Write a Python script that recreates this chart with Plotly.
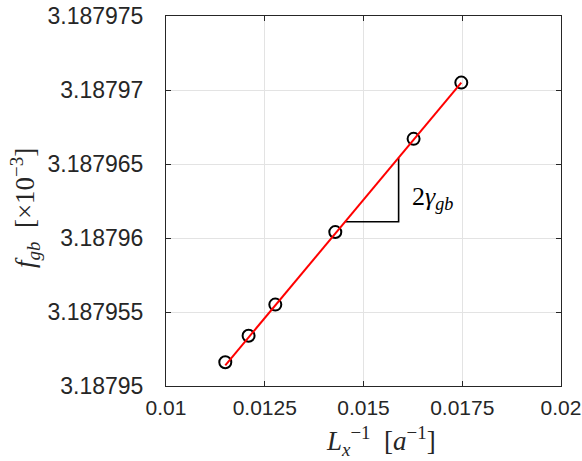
import plotly.graph_objects as go

# data
inv_Lx = [0.011501, 0.012091, 0.012767, 0.014286, 0.016268, 0.017476]
f_gb = [3.1879516, 3.1879534, 3.1879555, 3.1879604, 3.1879667, 3.1879705]

fit_x = [0.011501, 0.017476]
fit_y = [3.1879514, 3.1879705]

tri_x = [0.014539, 0.015889, 0.015889]
tri_y = [3.1879611, 3.1879611, 3.1879654]

x_ticks = [0.01, 0.0125, 0.015, 0.0175, 0.02]
x_labels = ["0.01", "0.0125", "0.015", "0.0175", "0.02"]
y_ticks = [3.18795, 3.187955, 3.18796, 3.187965, 3.18797, 3.187975]
y_labels = ["3.18795", "3.187955", "3.18796", "3.187965", "3.18797", "3.187975"]

fig = go.Figure()
fig.add_trace(go.Scatter(x=tri_x, y=tri_y, mode="lines",
                         line=dict(color="black", width=1.6), showlegend=False))
fig.add_trace(go.Scatter(x=inv_Lx, y=f_gb, mode="markers",
                         marker=dict(symbol="circle-open", size=12, color="black",
                                     line=dict(width=2, color="black")),
                         showlegend=False))
fig.add_trace(go.Scatter(x=fit_x, y=fit_y, mode="lines",
                         line=dict(color="#ff0000", width=2), showlegend=False))

fig.add_annotation(x=0.01618, y=3.1879627, xref="x", yref="y",
                   text="2<i>γ</i><sub><i>gb</i></sub>", showarrow=False,
                   xanchor="left", yanchor="middle",
                   font=dict(family="Liberation Serif", size=26, color="black"))

# axis titles as annotations for exact placement
fig.add_annotation(x=0.544, y=-0.148, xref="paper", yref="paper",
                   text="<i>L</i><sub><i>x</i></sub><sup>−1</sup>  [<i>a</i><sup>−1</sup>]",
                   showarrow=False, xanchor="center", yanchor="middle",
                   font=dict(family="Liberation Serif", size=27, color="#262626"))
fig.add_annotation(x=-0.357, y=0.481, xref="paper", yref="paper", textangle=-90,
                   text="<i>f</i><sub><i>gb</i></sub>  [×10<sup>−3</sup>]",
                   showarrow=False, xanchor="center", yanchor="middle",
                   font=dict(family="Liberation Serif", size=27, color="#262626"))

axis_common = dict(showgrid=True, gridcolor="#e3e3e3", gridwidth=1,
                   showline=True, linecolor="#262626", linewidth=1,
                   mirror="ticks", ticks="inside", ticklen=5, tickcolor="#262626",
                   zeroline=False, automargin=False, ticklabeloverflow="allow")

fig.update_xaxes(range=[0.01, 0.02], tickvals=x_ticks, ticktext=x_labels,
                 tickfont=dict(family="Liberation Sans", size=21, color="#262626"),
                 ticklabelstandoff=3, **axis_common)
fig.update_yaxes(range=[3.18795, 3.187975], tickvals=y_ticks, ticktext=y_labels,
                 tickfont=dict(family="Liberation Sans", size=23, color="#262626"),
                 ticklabelstandoff=17, **axis_common)

fig.update_layout(width=582, height=461, margin=dict(l=166, r=21, t=16, b=75),
                  plot_bgcolor="white", paper_bgcolor="white")

fig.write_html("out.html")
